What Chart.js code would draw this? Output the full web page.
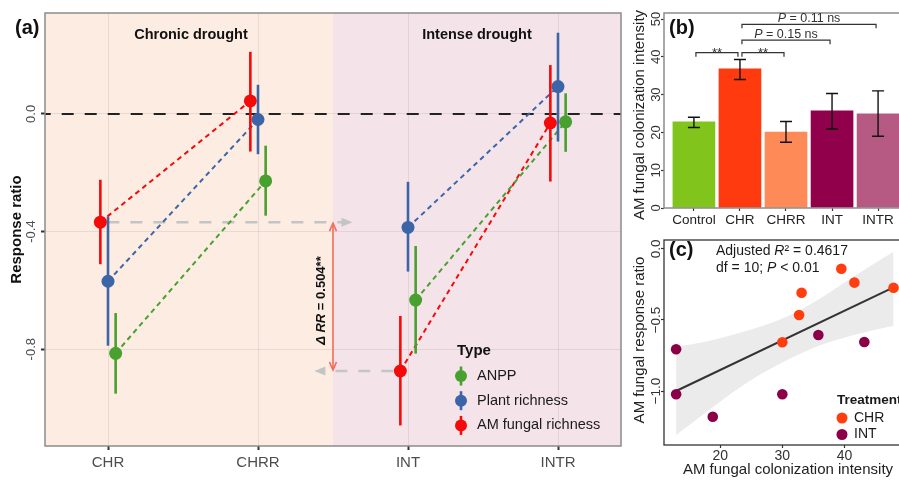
<!DOCTYPE html>
<html>
<head>
<meta charset="utf-8">
<script src="https://cdn.jsdelivr.net/npm/chart.js@4.4.1/dist/chart.umd.min.js"></script>
<style>
  html, body { margin: 0; padding: 0; background: #fff; width: 899px; height: 480px; overflow: hidden; }
  canvas { position: absolute; }
  #chartA { left: 0; top: 0; }
  #chartB { left: 630px; top: 0; }
  #chartC { left: 630px; top: 228px; }
</style>
</head>
<body>
<canvas id="chartA" width="630" height="480"></canvas>
<canvas id="chartB" width="280" height="228"></canvas>
<canvas id="chartC" width="280" height="252"></canvas>
<script>
// ---- panel (a): response ratios, mean and interval ends ----
const aCats = ['CHR', 'CHRR', 'INT', 'INTR'];
const anppRR = [-0.814, -0.228, -0.633, -0.027];
const anppLo = [-0.951, -0.346, -0.815, -0.129];
const anppHi = [-0.677, -0.108, -0.449, 0.070];
const plantRR = [-0.569, -0.019, -0.386, 0.093];
const plantLo = [-0.788, -0.137, -0.536, -0.094];
const plantHi = [-0.349, 0.099, -0.231, 0.276];
const amfRR = [-0.368, 0.044, -0.874, -0.031];
const amfLo = [-0.511, -0.128, -1.059, -0.230];
const amfHi = [-0.224, 0.211, -0.687, 0.166];
const aTicks = [-0.8, -0.4, 0];
const aTickLabels = ['-0.8', '-0.4', '0.0'];

// ---- panel (b): colonization intensity ----
const bCats = ['Control', 'CHR', 'CHRR', 'INT', 'INTR'];
const bMean = [22.8, 36.8, 20.1, 25.7, 24.9];
const bLo = [21.3, 34.0, 17.4, 20.9, 19.0];
const bHi = [24.0, 39.3, 22.9, 30.3, 31.0];
const bTicks = [0, 10, 20, 30, 40, 50];
const sigFrom = [0, 1, 1, 1];
const sigTo = [1, 2, 3, 4];
const sigAt = [41.1, 41.1, 44.4, 48.6];
const sigText = ['**', '**', '0.15 ns', '0.11 ns'];

// ---- panel (c): response ratio vs colonization ----
const chrColon = [39.5, 41.6, 47.9, 33.1, 32.7, 30.0];
const chrResp = [-0.139, -0.237, -0.273, -0.308, -0.465, -0.657];
const intColon = [12.9, 35.8, 43.2, 12.9, 30.0, 18.8];
const intResp = [-0.706, -0.606, -0.655, -1.023, -1.023, -1.181];
const fitColon = [12.9, 47.9];
const fitResp = [-1.0, -0.27];
const bandColon = [12.9, 18, 24, 30, 36, 42, 47.9];
const bandHi = [-0.69, -0.65, -0.58, -0.49, -0.35, -0.18, -0.02];
const bandLo = [-1.31, -1.14, -0.95, -0.80, -0.68, -0.60, -0.54];
const cXTicks = [20, 30, 40];
const cYTicks = [-1, -0.5, 0];
const cYTickLabels = ['\u22121.0', '\u22120.5', '0.0'];

const FONT = '"Liberation Sans", Arial, sans-serif';
Chart.defaults.font.family = FONT;

function font(size, style) {
  return (style ? style + ' ' : '') + size + 'px ' + FONT;
}

function vtext(ctx, str, x, y, f, color) {
  ctx.save();
  ctx.translate(x, y);
  ctx.rotate(-Math.PI / 2);
  ctx.font = f;
  ctx.fillStyle = color;
  ctx.textAlign = 'center';
  ctx.textBaseline = 'middle';
  ctx.fillText(str, 0, 0);
  ctx.restore();
}

// parts: [[text, style]], drawn one after another
function richText(ctx, parts, x, y, size, align) {
  let w = 0;
  parts.forEach(p => { ctx.font = font(size, p[1]); w += ctx.measureText(p[0]).width; });
  let cx = align === 'center' ? x - w / 2 : x;
  ctx.textAlign = 'left';
  parts.forEach(p => {
    ctx.font = font(size, p[1]);
    ctx.fillText(p[0], cx, y);
    cx += ctx.measureText(p[0]).width;
  });
}

// ================= panel (a) =================
const dodge = 0.051;
const typeSeries = [
  { label: 'ANPP', color: '#48a02e', vals: anppRR, lo: anppLo, hi: anppHi, off: dodge },
  { label: 'Plant richness', color: '#3c65a8', vals: plantRR, lo: plantLo, hi: plantHi, off: 0 },
  { label: 'AM fungal richness', color: '#f50a0a', vals: amfRR, lo: amfLo, hi: amfHi, off: -dodge }
];

const aDatasets = [];
typeSeries.forEach(s => {
  const pts = s.vals.map((v, i) => ({ x: i + s.off, y: v }));
  [[0, 1], [2, 3]].forEach(pair => {
    aDatasets.push({
      type: 'line', data: [pts[pair[0]], pts[pair[1]]],
      borderColor: s.color, borderWidth: 2, borderDash: [5, 4],
      pointRadius: 0, fill: false, order: 3
    });
  });
});
typeSeries.slice().reverse().forEach(s => {
  aDatasets.push({
    type: 'scatter', data: s.vals.map((v, i) => ({ x: i + s.off, y: v })),
    backgroundColor: s.color, pointRadius: 6.5, pointBorderWidth: 0,
    errLo: s.lo, errHi: s.hi, order: 1
  });
});

function arrowHead(ctx, tx, ty, dir, len, half, filled) {
  ctx.beginPath();
  if (dir === 'right' || dir === 'left') {
    const s = dir === 'right' ? -1 : 1;
    ctx.moveTo(tx + s * len, ty - half);
    ctx.lineTo(tx, ty);
    ctx.lineTo(tx + s * len, ty + half);
  } else {
    const s = dir === 'down' ? -1 : 1;
    ctx.moveTo(tx - half, ty + s * len);
    ctx.lineTo(tx, ty);
    ctx.lineTo(tx + half, ty + s * len);
  }
  if (filled) { ctx.closePath(); ctx.fill(); } else { ctx.stroke(); }
}

const panelA = {
  id: 'panelA',
  beforeDraw(chart) {
    const { ctx, chartArea: ca, scales: { x } } = chart;
    const mid = x.getPixelForValue(1.5);
    ctx.save();
    ctx.fillStyle = '#fcece2';
    ctx.fillRect(ca.left, ca.top, mid - ca.left, ca.bottom - ca.top);
    ctx.fillStyle = '#f4e4ea';
    ctx.fillRect(mid, ca.top, ca.right - mid, ca.bottom - ca.top);
    ctx.restore();
  },
  beforeDatasetsDraw(chart) {
    const { ctx, chartArea: ca, scales: { x, y } } = chart;
    const xs = v => x.getPixelForValue(v), ys = v => y.getPixelForValue(v);
    ctx.save();
    // zero reference line
    ctx.strokeStyle = '#222';
    ctx.lineWidth = 2;
    ctx.setLineDash([12, 11]);
    ctx.lineDashOffset = 6.3;
    ctx.beginPath();
    ctx.moveTo(ca.left, ys(0));
    ctx.lineTo(ca.right, ys(0));
    ctx.stroke();

    // grey guide arrows
    ctx.strokeStyle = '#c4c4c4';
    ctx.fillStyle = '#c4c4c4';
    ctx.lineWidth = 2.5;
    ctx.lineDashOffset = 0;
    const yTop = ys(amfRR[0]), yBot = ys(amfRR[2]);
    const t1 = xs(1.63), t2 = xs(1.376);
    ctx.beginPath();
    ctx.moveTo(xs(-dodge) + 7, yTop);
    ctx.lineTo(t1 - 10, yTop);
    ctx.stroke();
    ctx.beginPath();
    ctx.moveTo(xs(2 - dodge) - 7, yBot);
    ctx.lineTo(t2 + 10, yBot);
    ctx.stroke();
    ctx.setLineDash([]);
    arrowHead(ctx, t1, yTop, 'right', 11, 4.5, true);
    arrowHead(ctx, t2, yBot, 'left', 11, 4.5, true);

    // red delta arrow
    const xm = xs(1.5);
    ctx.strokeStyle = '#f36b5b';
    ctx.lineWidth = 1.6;
    ctx.beginPath();
    ctx.moveTo(xm, yTop + 1);
    ctx.lineTo(xm, yBot - 1);
    ctx.stroke();
    arrowHead(ctx, xm, yTop + 1, 'up', 8, 3.5, false);
    arrowHead(ctx, xm, yBot - 1, 'down', 8, 3.5, false);

    // delta RR label
    ctx.translate(xm - 12, (yTop + yBot) / 2 + 4);
    ctx.rotate(-Math.PI / 2);
    ctx.fillStyle = '#111';
    ctx.textBaseline = 'middle';
    richText(ctx, [['\u0394 RR', 'italic bold'], [' = 0.504**', 'bold']], 0, 0, 13, 'center');
    ctx.restore();
  },
  beforeDatasetDraw(chart, args) {
    const ds = chart.data.datasets[args.index];
    if (!ds.errLo) return;
    const { ctx, scales: { y } } = chart;
    ctx.save();
    ctx.strokeStyle = ds.backgroundColor;
    ctx.lineWidth = 2.6;
    args.meta.data.forEach((pt, i) => {
      ctx.beginPath();
      ctx.moveTo(pt.x, y.getPixelForValue(ds.errLo[i]));
      ctx.lineTo(pt.x, y.getPixelForValue(ds.errHi[i]));
      ctx.stroke();
    });
    ctx.restore();
  },
  afterDraw(chart) {
    const { ctx, chartArea: ca, scales: { x, y } } = chart;
    ctx.save();
    ctx.strokeStyle = '#8c8c8c';
    ctx.lineWidth = 1.5;
    ctx.strokeRect(ca.left, ca.top, ca.right - ca.left, ca.bottom - ca.top);

    aTicks.forEach((v, i) => vtext(ctx, aTickLabels[i], 31, y.getPixelForValue(v), font(13), '#4d4d4d'));
    vtext(ctx, 'Response ratio', 17, (ca.top + ca.bottom) / 2, font(15, 'bold'), '#111');

    ctx.fillStyle = '#111';
    ctx.textBaseline = 'middle';
    ctx.textAlign = 'left';
    ctx.font = font(20, 'bold');
    ctx.fillText('(a)', 15, 28);
    ctx.textAlign = 'center';
    ctx.font = font(14.5, 'bold');
    ctx.fillText('Chronic drought', x.getPixelForValue(0.553), 35);
    ctx.fillText('Intense drought', x.getPixelForValue(2.46), 35);

    // legend
    ctx.textAlign = 'left';
    ctx.font = font(15, 'bold');
    ctx.fillText('Type', 457, 351);
    ctx.font = font(14.5);
    typeSeries.forEach((s, i) => {
      const ly = 376 + i * 24.7;
      ctx.strokeStyle = s.color;
      ctx.fillStyle = s.color;
      ctx.lineWidth = 2.6;
      ctx.beginPath();
      ctx.moveTo(461, ly - 9.5);
      ctx.lineTo(461, ly + 9.5);
      ctx.stroke();
      ctx.beginPath();
      ctx.arc(461, ly, 6, 0, Math.PI * 2);
      ctx.fill();
      ctx.fillStyle = '#1a1a1a';
      ctx.fillText(s.label, 477, ly);
    });
    ctx.restore();
  }
};

new Chart(document.getElementById('chartA'), {
  type: 'scatter',
  data: { datasets: aDatasets },
  options: {
    responsive: false,
    animation: false,
    layout: { padding: { left: 0, top: 13, right: 9, bottom: 0 } },
    plugins: { legend: { display: false }, tooltip: { enabled: false } },
    scales: {
      x: {
        type: 'linear', min: -0.42, max: 3.42,
        afterBuildTicks: s => { s.ticks = aCats.map((c, i) => ({ value: i })); },
        afterFit: s => { s.height = 34; },
        grid: { color: 'rgba(170,150,150,0.22)', lineWidth: 1, tickColor: '#333', tickLength: 4, tickWidth: 2 },
        border: { display: false },
        ticks: { callback: v => aCats[v], color: '#4d4d4d', font: { size: 15 }, padding: 4, maxRotation: 0, autoSkip: false }
      },
      y: {
        min: -1.129, max: 0.343,
        afterBuildTicks: s => { s.ticks = aTicks.map(v => ({ value: v })); },
        afterFit: s => { s.width = 45; },
        grid: { color: 'rgba(170,150,150,0.22)', lineWidth: 1, tickColor: '#333', tickLength: 4, tickWidth: 2 },
        border: { display: false },
        ticks: { color: 'rgba(0,0,0,0)', font: { size: 13 } }
      }
    }
  },
  plugins: [panelA]
});

// ================= panel (b) =================
const bColors = ['#80c41c', '#ff3a0e', '#fd8a57', '#91004a', '#b75a83'];

const panelB = {
  id: 'panelB',
  afterDatasetsDraw(chart) {
    const { ctx, scales: { x, y } } = chart;
    ctx.save();
    ctx.strokeStyle = '#111';
    ctx.lineWidth = 1.4;
    bMean.forEach((m, i) => {
      const px = x.getPixelForValue(i);
      const lo = y.getPixelForValue(bLo[i]), hi = y.getPixelForValue(bHi[i]);
      ctx.beginPath();
      ctx.moveTo(px, lo); ctx.lineTo(px, hi);
      ctx.moveTo(px - 6, lo); ctx.lineTo(px + 6, lo);
      ctx.moveTo(px - 6, hi); ctx.lineTo(px + 6, hi);
      ctx.stroke();
    });
    ctx.restore();
  },
  afterDraw(chart) {
    const { ctx, chartArea: ca, scales: { x, y } } = chart;
    ctx.save();
    ctx.strokeStyle = '#8c8c8c';
    ctx.lineWidth = 1.5;
    ctx.strokeRect(ca.left, ca.top, ca.right - ca.left, ca.bottom - ca.top);

    bTicks.forEach(v => vtext(ctx, String(v), 26, y.getPixelForValue(v), font(13), '#333'));
    vtext(ctx, 'AM fungal colonization intensity', 10, 115, font(15), '#222');

    ctx.fillStyle = '#111';
    ctx.textAlign = 'left';
    ctx.textBaseline = 'middle';
    ctx.font = font(20, 'bold');
    ctx.fillText('(b)', 39, 28);

    // significance brackets
    ctx.strokeStyle = '#333';
    ctx.fillStyle = '#333';
    ctx.lineWidth = 1.2;
    ctx.textBaseline = 'alphabetic';
    sigFrom.forEach((f, i) => {
      const x1 = x.getPixelForValue(f) + 2, x2 = x.getPixelForValue(sigTo[i]) - 2;
      const ly = y.getPixelForValue(sigAt[i]);
      ctx.beginPath();
      ctx.moveTo(x1, ly + 4); ctx.lineTo(x1, ly); ctx.lineTo(x2, ly); ctx.lineTo(x2, ly + 4);
      ctx.stroke();
      const cx = (x1 + x2) / 2;
      if (sigText[i] === '**') {
        richText(ctx, [['**', '']], cx, ly + 4, 13, 'center');
      } else {
        richText(ctx, [['P', 'italic'], [' = ' + sigText[i], '']], cx, ly - 2, 12.5, 'center');
      }
    });
    ctx.restore();
  }
};

new Chart(document.getElementById('chartB'), {
  type: 'bar',
  data: {
    datasets: [{
      data: bMean.map((v, i) => ({ x: i, y: v })),
      backgroundColor: bColors,
      barThickness: 42
    }]
  },
  options: {
    responsive: false,
    animation: false,
    layout: { padding: { left: 0, top: 13, right: 2, bottom: 0 } },
    plugins: { legend: { display: false }, tooltip: { enabled: false } },
    scales: {
      x: {
        type: 'linear', min: -0.65, max: 4.65, offset: false,
        afterBuildTicks: s => { s.ticks = bCats.map((c, i) => ({ value: i })); },
        afterFit: s => { s.height = 20; },
        grid: { offset: false, drawOnChartArea: false, tickColor: '#333', tickLength: 3, tickWidth: 1.2 },
        border: { display: false },
        ticks: { callback: v => bCats[v], color: '#222', font: { size: 13.5 }, padding: 1, maxRotation: 0, autoSkip: false }
      },
      y: {
        min: 0, max: 51.6,
        afterBuildTicks: s => { s.ticks = bTicks.map(v => ({ value: v })); },
        afterFit: s => { s.width = 34; },
        grid: { drawOnChartArea: false, tickColor: '#333', tickLength: 3, tickWidth: 1.2 },
        border: { display: false },
        ticks: { color: 'rgba(0,0,0,0)' }
      }
    }
  },
  plugins: [panelB]
});

// ================= panel (c) =================
const chrColor = '#ff3d0e', intColor = '#8c0047';

const panelC = {
  id: 'panelC',
  afterDraw(chart) {
    const { ctx, chartArea: ca, scales: { y } } = chart;
    ctx.save();
    ctx.strokeStyle = '#333';
    ctx.lineWidth = 1.3;
    ctx.strokeRect(ca.left, ca.top, ca.right - ca.left, ca.bottom - ca.top);

    cYTicks.forEach((v, i) => vtext(ctx, cYTickLabels[i], 26, y.getPixelForValue(v), font(13.5), '#333'));
    vtext(ctx, 'AM fungal response ratio', 10, 112, font(15), '#222');

    ctx.fillStyle = '#222';
    ctx.textAlign = 'center';
    ctx.textBaseline = 'middle';
    ctx.font = font(15);
    ctx.fillText('AM fungal colonization intensity', 158, 242);

    ctx.fillStyle = '#111';
    ctx.textAlign = 'left';
    ctx.font = font(20, 'bold');
    ctx.fillText('(c)', 39, 22);

    ctx.fillStyle = '#1a1a1a';
    richText(ctx, [['Adjusted ', ''], ['R', 'italic'], ['\u00b2 = 0.4617', '']], 86, 23, 14, 'left');
    richText(ctx, [['df = 10; ', ''], ['P', 'italic'], [' < 0.01', '']], 86, 40, 14, 'left');

    // legend
    ctx.font = font(13.5, 'bold');
    ctx.fillText('Treatment', 207, 172);
    [['CHR', chrColor], ['INT', intColor]].forEach((e, i) => {
      const ly = 190 + i * 16.5;
      ctx.fillStyle = e[1];
      ctx.beginPath();
      ctx.arc(212, ly, 5.5, 0, Math.PI * 2);
      ctx.fill();
      ctx.fillStyle = '#1a1a1a';
      ctx.font = font(14);
      ctx.fillText(e[0], 224, ly);
    });
    ctx.restore();
  }
};

new Chart(document.getElementById('chartC'), {
  type: 'scatter',
  data: {
    datasets: [
      {
        type: 'line', data: bandColon.map((v, i) => ({ x: v, y: bandHi[i] })),
        borderWidth: 0, pointRadius: 0, fill: '+1', backgroundColor: '#ebebeb',
        cubicInterpolationMode: 'monotone', order: 5
      },
      {
        type: 'line', data: bandColon.map((v, i) => ({ x: v, y: bandLo[i] })),
        borderWidth: 0, pointRadius: 0, fill: false,
        cubicInterpolationMode: 'monotone', order: 5
      },
      {
        type: 'line', data: fitColon.map((v, i) => ({ x: v, y: fitResp[i] })),
        borderColor: '#333', borderWidth: 2, pointRadius: 0, fill: false, order: 3
      },
      {
        data: chrColon.map((v, i) => ({ x: v, y: chrResp[i] })),
        backgroundColor: chrColor, pointRadius: 5.3, pointBorderWidth: 0, order: 1
      },
      {
        data: intColon.map((v, i) => ({ x: v, y: intResp[i] })),
        backgroundColor: intColor, pointRadius: 5.3, pointBorderWidth: 0, order: 1
      }
    ]
  },
  options: {
    responsive: false,
    animation: false,
    layout: { padding: { left: 0, top: 12, right: 2, bottom: 0 } },
    plugins: { legend: { display: false }, tooltip: { enabled: false } },
    scales: {
      x: {
        type: 'linear', min: 10.95, max: 49.7,
        afterBuildTicks: s => { s.ticks = cXTicks.map(v => ({ value: v })); },
        afterFit: s => { s.height = 35; },
        grid: { drawOnChartArea: false, tickColor: '#333', tickLength: 3, tickWidth: 1.2 },
        border: { display: false },
        ticks: { color: '#333', font: { size: 14 }, padding: 0, maxRotation: 0 }
      },
      y: {
        min: -1.38, max: 0.063,
        afterBuildTicks: s => { s.ticks = cYTicks.map(v => ({ value: v })); },
        afterFit: s => { s.width = 34; },
        grid: { drawOnChartArea: false, tickColor: '#333', tickLength: 3, tickWidth: 1.2 },
        border: { display: false },
        ticks: { color: 'rgba(0,0,0,0)' }
      }
    }
  },
  plugins: [panelC]
});
</script>
</body>
</html>
